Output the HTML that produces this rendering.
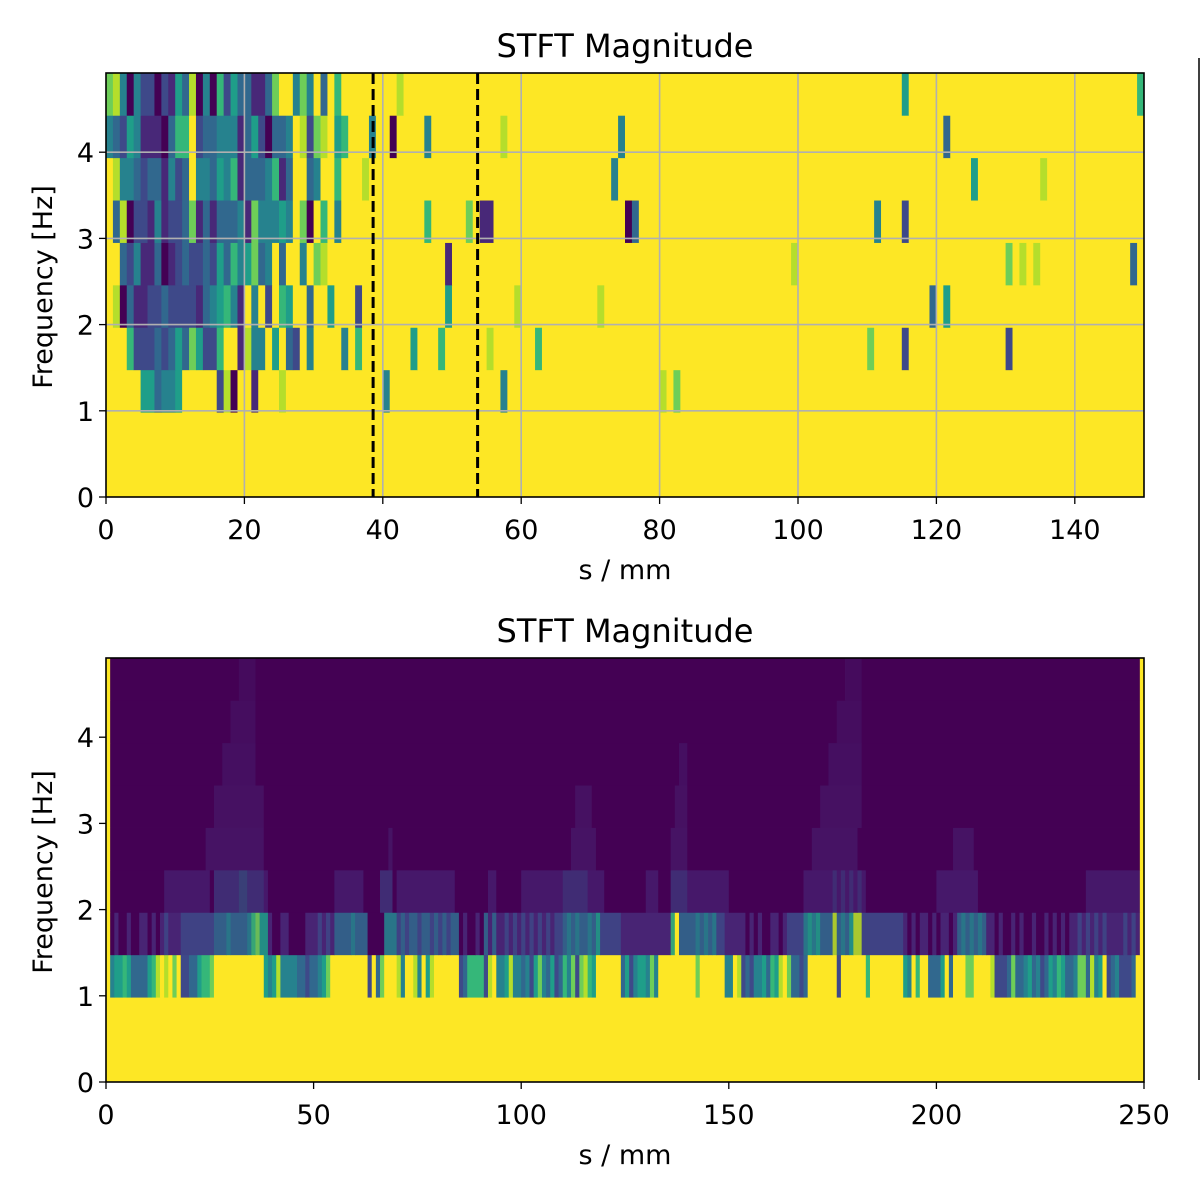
<!DOCTYPE html>
<html><head><meta charset="utf-8"><style>
html,body{margin:0;padding:0;background:#fff;}
svg{display:block;}
text{font-family:"DejaVu Sans","Liberation Sans",sans-serif;fill:#000;}
</style></head><body>
<svg id="chart" width="1200" height="1200" viewBox="0 0 1200 1200" xmlns="http://www.w3.org/2000/svg">
<rect width="1200" height="1200" fill="#fff"/>
<line x1="1199" y1="58" x2="1199" y2="1080" stroke="#000" stroke-width="1.5"/>
</svg>
<script>
// ---------- data ----------
const viridis = ["#440154","#482878","#3e4989","#31688e","#26828e","#1f9e89","#35b779","#6ece58","#b5de2b","#fde725"];
const freqBinHz = 0.492;
const topCols = 150;
const topRow0 = [];
const topRow1 = [];
const topRow2 = [[0,"9999955344599999280991"],[25,"8"],[40,"4"],[57,"4"],[80,"8"],[82,"7"]];
const topRow3 = [[0,"9996222323537522699184495932949999496"],[44,"5"],[48,"6"],[55,"8"],[62,"6"],[110,"7"],[115,"2"],[130,"2"]];
const topRow4 = [[0,"9803112232222134564194929659939959992"],[49,"5"],[59,"8"],[71,"8"],[119,"3"],[121,"5"]];
const topRow5 = [[0,"99324113012322325364573493994978"],[49,"1"],[99,"8"],[130,"7"],[132,"8"],[134,"8"],[148,"3"]];
const topRow6 = [[0,"9380221412237131333417444549709694"],[46,"6"],[52,"7"],[54,"11"],[75,"03"],[111,"4"],[115,"2"]];
const topRow7 = [[0,"9844323314239443546133346139934996"],[37,"8"],[73,"4"],[125,"5"],[135,"8"]];
const topRow8 = [[0,"43254111036692334441352033498278956"],[38,"4"],[41,"0"],[46,"4"],[57,"8"],[74,"4"],[121,"3"]];
const topRow9 = [[0,"78404220215380406253311379947493"],[33,"6"],[42,"8"],[115,"5"],[149,"6"]];
const topMarkers = [38.6, 53.7];
const topXTicks = [0,20,40,60,80,100,120,140];

const botCols = 250;
const botRow0 = [];
const botRow1 = [];
const botRow2 = [[1,"45565"],[6,"3333"],[10,"568"],[13,"98979"],[18,"2233"],[22,"5667"],[38,"54584"],[43,"444332"],[49,"33457"],[63,"29379"],[70,"84"],[74,"84958"],[85,"23666628945"],[95,"45844342574352364727865"],[124,"352455474"],[142,"7"],[149,"44982"],[154,"32445365897"],[165,"33239"],[176,"2"],[183,"6"],[192,"549699"],[198,"3335"],[203,"3"],[207,"77"],[213,"8"],[214,"222373345342"],[226,"3546533477"],[236,"38459234222"],[247,"3"]];
const botRow3 = [[0,"9"],[1,"010010011010"],[13,"1211122"],[20,"222222"],[26,"33343333"],[34,"46755"],[39,"1001100001"],[49,"112121"],[55,"33334333"],[63,"0000"],[67,"444"],[70,"232332332323233"],[85,"010010"],[91,"3131"],[95,"121212121212122"],[110,"34343343"],[118,"5"],[119,"22222"],[124,"111111111111"],[136,"69"],[138,"333"],[141,"343434"],[147,"22"],[149,"11111"],[154,"0101001101"],[164,"2222"],[168,"4545"],[172,"3338"],[176,"3435"],[180,"88"],[182,"2222222222"],[192,"1010110101101"],[205,"3434343"],[212,"11"],[214,"0100101001001010101"],[233,"1212121211112121"],[249,"9"]];
const botRow4 = [[0,"9"],[14,"11111111111"],[26,"2222223322221"],[55,"1111111"],[66,"222"],[70,"11111111111111"],[92,"11"],[100,"1111111111"],[110,"2222221111"],[130,"111"],[136,"2222"],[140,"1111111111"],[168,"111111"],[174,"12121212"],[182,"1"],[200,"1111111111"],[236,"1111111111111"],[249,"9"]];
const botRow5 = [[0,"9"],[24,"11111111111111"],[68,"1"],[112,"111111"],[136,"1111"],[170,"11111111111"],[204,"11111"],[249,"9"]];
const botRow6 = [[0,"9"],[26,"111111111111"],[113,"1111"],[137,"111"],[172,"1111111111"],[249,"9"]];
const botRow7 = [[0,"9"],[28,"11111111"],[138,"11"],[174,"11111111"],[249,"9"]];
const botRow8 = [[0,"9"],[30,"111111"],[176,"111111"],[249,"9"]];
const botRow9 = [[0,"9"],[32,"1111"],[178,"1111"],[249,"9"]];
const botXTicks = [0,50,100,150,200,250];
const yTicks = [0,1,2,3,4];

// ---------- helpers ----------
const NS = "http://www.w3.org/2000/svg";
const svg = document.getElementById("chart");
function mk(tag, attrs, parent){
  const e = document.createElementNS(NS, tag);
  for (const k in attrs) e.setAttribute(k, attrs[k]);
  (parent||svg).appendChild(e);
  return e;
}
function expand(segs, n, def){
  const arr = new Array(n).fill(def);
  segs.forEach(s => { const st = s[0]; const str = s[1]; for (let i=0;i<str.length;i++){ if (st+i<n && str[i]>='0' && str[i]<='9') arr[st+i] = +str[i]; } });
  return arr;
}
function hex2rgb(h){ return [1,3,5].map(i=>parseInt(h.substr(i,2),16)); }
function colorFor(v, strength){
  if (v === 9 || strength >= 1) return viridis[v];
  const a = hex2rgb(viridis[0]), b = hex2rgb(viridis[v]);
  const c = a.map((q,i)=>Math.round(q + (b[i]-q)*strength));
  return "rgb("+c.join(",")+")";
}

function drawPanel(o){
  const x = v => o.left + v / o.xmax * (o.right - o.left);
  const y = v => o.bottom - v * o.pxPerHz;
  const g = mk("g", {});
  
  
  o.rows.forEach((segs, r) => {
    const vals = expand(segs, o.cols, o.rowDefaults[r]);
    const y0 = y(r*freqBinHz), y1 = y((r+1)*freqBinHz);
    let c = 0;
    while (c < o.cols){
      let c2 = c; while (c2+1 < o.cols && vals[c2+1] === vals[c]) c2++;
      const cx0 = x(c * o.xmax/o.cols), cx1 = x((c2+1) * o.xmax/o.cols);
      const cell = mk("rect", {x:cx0.toFixed(2), y:y1.toFixed(2), width:(cx1-cx0+0.4).toFixed(2), height:(y0-y1+0.4).toFixed(2), fill:colorFor(vals[c], o.rowStrength[r])}, g);
      
      
      c = c2+1;
    }
  });
  if (o.grid){
    o.xticks.forEach(t => { if (t>0){ const l = mk("line",{x1:x(t),x2:x(t),y1:o.top,y2:o.bottom,stroke:"#b0b0b0","stroke-width":1.6});
      
       }});
    yTicks.forEach(t => { if (t>0){ const l = mk("line",{x1:o.left,x2:o.right,y1:y(t),y2:y(t),stroke:"#b0b0b0","stroke-width":1.6});
      
       }});
  }
  (o.markers||[]).forEach(m => {
    const l = mk("line",{x1:x(m),x2:x(m),y1:o.top,y2:o.bottom,stroke:"#000","stroke-width":3,"stroke-dasharray":"11,5"});
    
    
  });
  const fr = mk("rect",{x:o.left,y:o.top,width:o.right-o.left,height:o.bottom-o.top,fill:"none",stroke:"#000","stroke-width":1.6});
  
  
  o.xticks.forEach(t => {
    const tl = mk("line",{x1:x(t),x2:x(t),y1:o.bottom,y2:o.bottom+7,stroke:"#000","stroke-width":1.3});
    
    
    const tx = mk("text",{x:x(t),y:o.bottom+42,"font-size":"27","text-anchor":"middle"}); tx.textContent = t;
    
    
  });
  yTicks.forEach(t => {
    const tl = mk("line",{x1:o.left-7,x2:o.left,y1:y(t),y2:y(t),stroke:"#000","stroke-width":1.3});
    
    
    const tx = mk("text",{x:o.left-12,y:y(t)+10,"font-size":"27","text-anchor":"end"}); tx.textContent = t;
    
    
  });
  const ti = mk("text",{x:(o.left+o.right)/2,y:o.top-16,"font-size":"32","text-anchor":"middle"}); ti.textContent = "STFT Magnitude";
  
  
  const xl = mk("text",{x:(o.left+o.right)/2,y:o.bottom+82,"font-size":"27","text-anchor":"middle"}); xl.textContent = "s / mm";
  
  
  const yc = (o.top+o.bottom)/2 + 2;
  const yl = mk("text",{x:52,y:yc,"font-size":"27","text-anchor":"middle",transform:"rotate(-90 52 "+yc+")"}); yl.textContent = "Frequency [Hz]";
  
  
}

drawPanel({name:"top", left:106, right:1144, top:73, bottom:497, pxPerHz:86.2, xmax:150, cols:topCols,
  rows:[topRow0,topRow1,topRow2,topRow3,topRow4,topRow5,topRow6,topRow7,topRow8,topRow9],
  rowDefaults:[9,9,9,9,9,9,9,9,9,9], rowStrength:[1,1,1,1,1,1,1,1,1,1], xticks:topXTicks, grid:true, markers:topMarkers});
drawPanel({name:"bottom", left:106, right:1144, top:658, bottom:1082, pxPerHz:86.2, xmax:250, cols:botCols,
  rows:[botRow0,botRow1,botRow2,botRow3,botRow4,botRow5,botRow6,botRow7,botRow8,botRow9],
  rowDefaults:[9,9,9,1,0,0,0,0,0,0], rowStrength:[1,1,1,0.9,0.6,0.45,0.4,0.35,0.3,0.25], xticks:botXTicks, grid:false});
</script>
</body></html>
